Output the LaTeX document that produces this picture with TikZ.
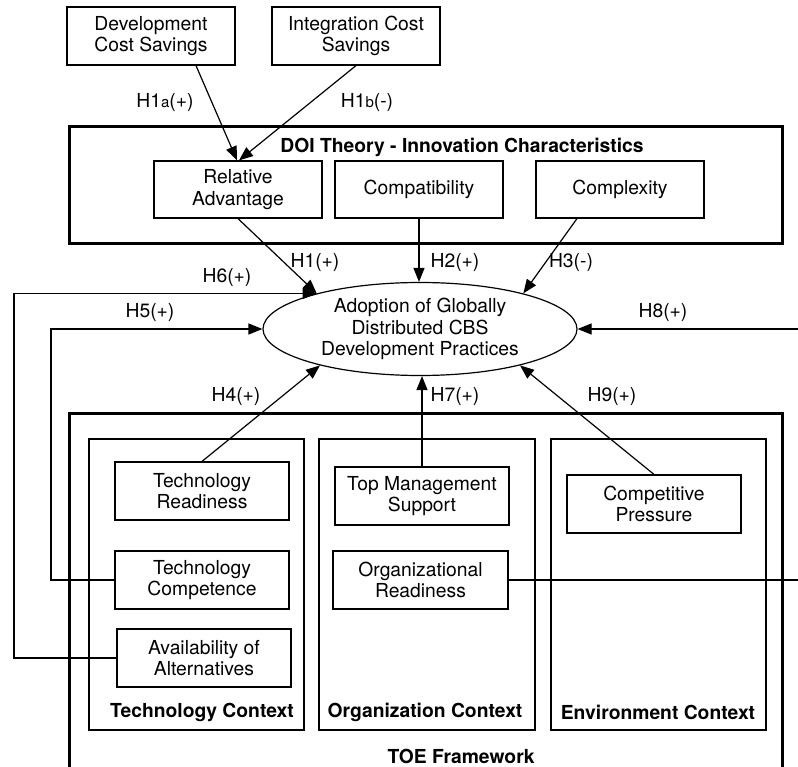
\documentclass[tikz,border=0pt]{standalone}
\usepackage{fontspec}
\setmainfont{TeX Gyre Heros}
\usetikzlibrary{shapes.geometric,arrows.meta}
\begin{document}
\begin{tikzpicture}[x=1pt,y=-1pt,
  font=\fontsize{19.3}{21.7}\selectfont,
  thin line/.style={line width=1.2pt},
  box/.style={draw,thin line,rectangle,inner sep=0pt,align=center,minimum width=168pt,minimum height=57pt},
  tbox/.style={box,minimum width=174pt,minimum height=58pt},
  frame/.style={draw,line width=3pt},
  ctx/.style={draw,thin line},
  title/.style={font=\fontsize{19.3}{21.7}\selectfont\bfseries,inner sep=0pt},
  lab/.style={inner sep=0pt},
  arr/.style={thin line,-{Triangle[length=14pt,width=11pt]}},
  con/.style={thin line}]
\useasboundingbox (0,0) rectangle (798,767);
\fill[white] (0,0) rectangle (798,767);
% frames
\draw[frame] (69,127) rectangle (782,244);
\draw[frame] (69,413) rectangle (782,800);
\node[title] (doit) at (462,147) {DOI Theory - Innovation Characteristics};
\node[title] (toet) at (461,756) {TOE Framework};
% context boxes
\draw[ctx] (89,439) rectangle (304,730);
\draw[ctx] (319,439) rectangle (535,730);
\draw[ctx] (551,439) rectangle (766,730);
\node[title] (tct) at (202,712) {Technology Context};
\node[title] (oct) at (425,712) {Organization Context};
\node[title] (ect) at (658,712) {Environment Context};
% top boxes
\node[box,minimum height=58pt] (dev) at (151,36) {Development\\Cost Savings};
\node[box,minimum height=58pt] (integ) at (356,36) {Integration Cost\\Savings};
\node[box] (ra) at (238,189.5) {Relative\\Advantage};
\node[box] (compat) at (419,189.5) {Compatibility};
\node[box] (cplx) at (620,189.5) {Complexity};
% central ellipse
\node[draw,thin line,ellipse,minimum width=314pt,minimum height=93pt,inner sep=0pt,align=center] (adopt) at (420,329) {Adoption of Globally\\Distributed CBS\\Development Practices};
% TOE boxes
\node[tbox] (tr) at (202,491) {Technology\\Readiness};
\node[tbox] (tc) at (202,580) {Technology\\Competence};
\node[tbox] (avail) at (204,658) {Availability of\\Alternatives};
\node[tbox] (topm) at (422,496) {Top Management\\Support};
\node[tbox,minimum width=175pt] (orgr) at (420.5,580) {Organizational\\Readiness};
\node[tbox] (cp) at (654,504) {Competitive\\Pressure};
% corner coordinates
\coordinate (c5) at (51,580);
\coordinate (c6) at (14,658);
\coordinate (c8) at (800,580);
% arrows
\draw[arr] ([xshift=45pt]dev.south) -- ([xshift=-1pt]ra.north);
\draw[arr] (integ.south) -- ([xshift=1pt]ra.north);
\draw[arr] (ra.south) -- (adopt.161);
\draw[arr] (compat.south) -- (compat.south |- adopt.north);
\draw[arr] ([xshift=-43pt]cplx.south) -- (adopt.19);
\draw[arr] (avail.west) -- (c6) |- (adopt.161);
\draw[arr] (tc.west) -- (c5) |- (adopt.west);
\draw[arr] (orgr.east) -- (c8) |- (adopt.east);
\draw[arr] (tr.north) -- (adopt.200);
\draw[arr] (topm.north) -- (topm.north |- adopt.south);
\draw[arr] (cp.north) -- (adopt.-20);
% labels
\node[lab] (l1a) at (165,103) {H1{\fontsize{15}{17}\selectfont a}(+)};
\node[lab] (l1b) at (367,103) {H1{\fontsize{15}{17}\selectfont b}(-)};
\node[lab] (l1) at (315,263) {H1(+)};
\node[lab] (l2) at (455,263) {H2(+)};
\node[lab] (l3) at (571,263) {H3(-)};
\node[lab] (l6) at (227,278) {H6(+)};
\node[lab] (l5) at (150,313) {H5(+)};
\node[lab] (l8) at (663,313) {H8(+)};
\node[lab] (l4) at (236,397) {H4(+)};
\node[lab] (l7) at (455,397) {H7(+)};
\node[lab] (l9) at (612,397) {H9(+)};
\end{tikzpicture}
\end{document}
